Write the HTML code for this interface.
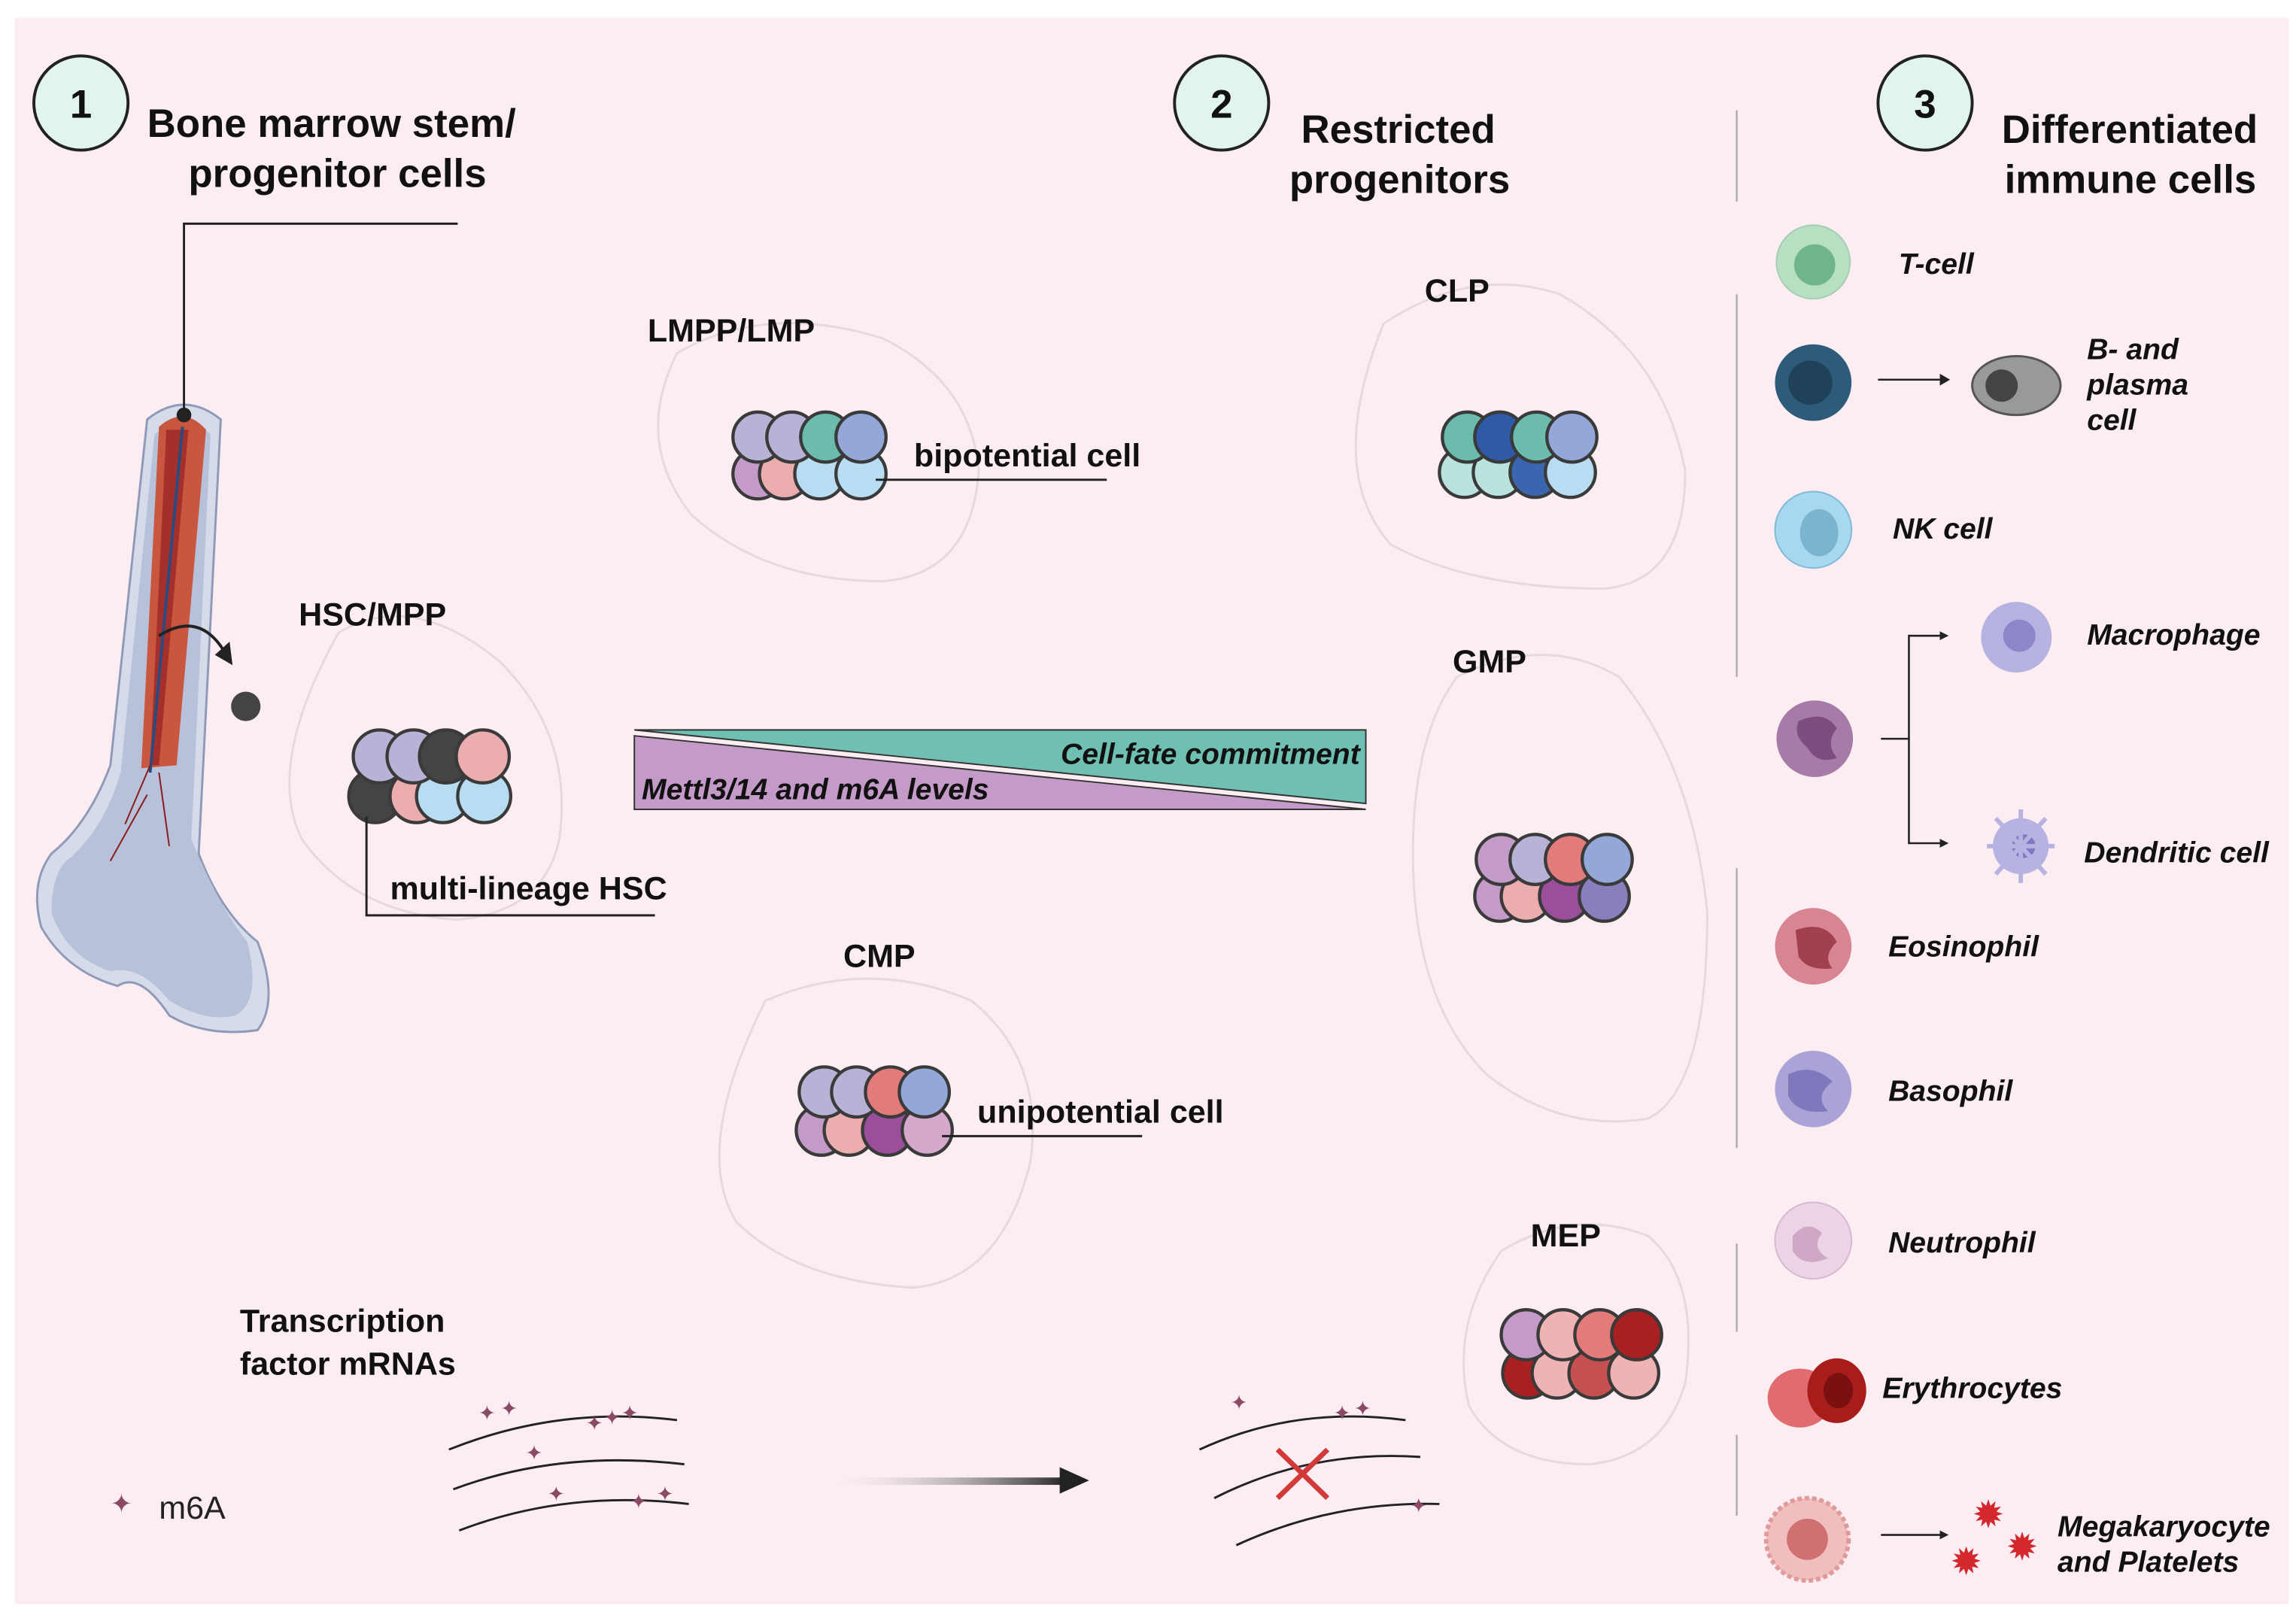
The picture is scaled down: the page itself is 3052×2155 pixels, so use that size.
<!DOCTYPE html>
<html><head><meta charset="utf-8"><style>
html,body{margin:0;padding:0;background:#fff}
svg{display:block}
text{font-family:"Liberation Sans",sans-serif}
.t{font-weight:bold;font-size:27px;fill:#111}
.l{font-weight:bold;font-size:22px;fill:#111}
.i{font-weight:bold;font-style:italic;font-size:20px;fill:#111}
.c{stroke:#3a3a3a;stroke-width:2.2}
.blob{fill:none;stroke:#e6d9dd;stroke-width:1.5}
</style></head><body>
<svg width="3052" height="2155" viewBox="0 0 1560 1101.5" xmlns="http://www.w3.org/2000/svg">
<rect x="0" y="0" width="1560" height="1102" fill="#fff"/>
<rect x="10" y="12" width="1545" height="1078" fill="#fcedf3"/>

<!-- badges -->
<g stroke="#222" stroke-width="2" fill="#e2f4ef">
<circle cx="55" cy="70" r="32"/><circle cx="830" cy="70" r="32"/><circle cx="1308" cy="70" r="32"/>
</g>
<text x="55" y="80" text-anchor="middle" class="t" font-size="28">1</text>
<text x="830" y="80" text-anchor="middle" class="t">2</text>
<text x="1308" y="80" text-anchor="middle" class="t">3</text>
<text x="100" y="93" class="t">Bone marrow stem/</text>
<text x="128" y="127" class="t">progenitor cells</text>
<text x="884" y="97" class="t">Restricted</text>
<text x="876" y="131" class="t">progenitors</text>
<text x="1360" y="97" class="t">Differentiated</text>
<text x="1362" y="131" class="t">immune cells</text>

<!-- separators -->
<g stroke="#aaa" stroke-width="1.2">
<line x1="1180" y1="75" x2="1180" y2="137"/>
<line x1="1180" y1="200" x2="1180" y2="460"/>
<line x1="1180" y1="590" x2="1180" y2="780"/>
<line x1="1180" y1="845" x2="1180" y2="905"/>
<line x1="1180" y1="975" x2="1180" y2="1030"/>
</g>

<!-- bone -->
<path d="M100 285 Q125 265 150 285 L135 580 Q150 620 175 640 Q190 680 175 700 Q140 705 115 690 Q95 660 80 670 Q45 660 28 630 Q20 600 35 580 Q60 560 75 520 Z" fill="#d5dbe8" stroke="#8f9ab8" stroke-width="1.5"/>
<path d="M105 295 Q125 280 143 295 L130 570 Q148 615 168 640 Q178 680 160 690 Q140 695 115 680 Q95 655 75 660 Q45 650 35 620 Q35 595 45 585 Q70 565 82 525 Z" fill="#b7c1da"/>
<path d="M108 290 Q125 275 140 292 L120 520 L96 522 Z" fill="#c9563f"/>
<path d="M113 292 L128 292 L108 520 L102 520 Z" fill="#a3302a"/>
<line x1="124" y1="290" x2="102" y2="525" stroke="#2b4a80" stroke-width="2"/>
<path d="M102 520 L85 560 M108 525 L115 575 M100 540 L75 585" stroke="#8a1a1a" stroke-width="1" fill="none"/>
<circle cx="125" cy="282" r="5" fill="#222"/>
<polyline points="125,282 125,152 311,152" fill="none" stroke="#222" stroke-width="1.5"/>
<path d="M108 432 Q135 415 152 442" fill="none" stroke="#222" stroke-width="2"/>
<polygon points="146,445 158,452 156,436" fill="#222"/>
<circle cx="167" cy="480" r="10" fill="#444"/>

<!-- blobs -->
<path class="blob" d="M230 430 Q280 400 340 450 Q390 500 380 570 Q370 620 310 625 Q240 620 205 570 Q180 520 230 430 Z"/>
<path class="blob" d="M460 240 Q520 205 600 230 Q660 260 665 320 Q660 390 600 395 Q520 395 470 350 Q430 300 460 240 Z"/>
<path class="blob" d="M520 680 Q590 650 660 680 Q710 720 700 790 Q680 870 620 875 Q540 870 500 830 Q470 780 520 680 Z"/>
<path class="blob" d="M940 220 Q1000 180 1060 200 Q1130 240 1145 320 Q1145 395 1090 400 Q1000 400 945 370 Q900 320 940 220 Z"/>
<path class="blob" d="M990 460 Q1050 430 1100 460 Q1150 520 1160 620 Q1160 740 1120 760 Q1060 770 1010 730 Q960 680 960 580 Q960 500 990 460 Z"/>
<path class="blob" d="M1020 850 Q1070 820 1120 840 Q1155 870 1145 940 Q1130 990 1080 995 Q1020 995 998 955 Q985 900 1020 850 Z"/>

<text x="203" y="425" class="l" font-size="24">HSC/MPP</text>
<text x="440" y="232" class="l" font-size="24">LMPP/LMP</text>
<text x="573" y="657" class="l" font-size="24">CMP</text>
<text x="968" y="205" class="l" font-size="24">CLP</text>
<text x="987" y="457" class="l" font-size="24">GMP</text>
<text x="1040" y="847" class="l" font-size="24">MEP</text>

<!-- HSC cluster -->
<g class="c">
<circle cx="255" cy="541" r="18" fill="#444"/><circle cx="283" cy="541" r="18" fill="#ebadad"/><circle cx="301" cy="541" r="18" fill="#b8dcf2"/><circle cx="329" cy="541" r="18" fill="#b8dcf2"/>
<circle cx="258" cy="514" r="18" fill="#b8b2d6"/><circle cx="281" cy="514" r="18" fill="#b8b2d6"/><circle cx="303" cy="514" r="18" fill="#444"/><circle cx="328" cy="514" r="18" fill="#ebadad"/>
</g>
<polyline points="249,555 249,622 445,622" fill="none" stroke="#222" stroke-width="1.5"/>
<text x="265" y="611" class="l" font-size="21">multi-lineage HSC</text>

<!-- LMPP cluster -->
<g class="c">
<circle cx="515" cy="322" r="17" fill="#c49bc8"/><circle cx="533" cy="322" r="17" fill="#ebadad"/><circle cx="557" cy="322" r="17" fill="#b8dcf2"/><circle cx="585" cy="322" r="17" fill="#b8dcf2"/>
<circle cx="515" cy="297" r="17" fill="#b8b2d6"/><circle cx="538" cy="297" r="17" fill="#b8b2d6"/><circle cx="561" cy="297" r="17" fill="#6cbcae"/><circle cx="585" cy="297" r="17" fill="#93a8d8"/>
</g>
<polyline points="595,326 752,326" stroke="#222" stroke-width="1.5"/>
<text x="621" y="317" class="l" font-size="21">bipotential cell</text>

<!-- CMP cluster -->
<g class="c">
<circle cx="558" cy="768" r="17" fill="#c49bc8"/><circle cx="577" cy="768" r="17" fill="#ebadad"/><circle cx="603" cy="768" r="17" fill="#9b4f9b"/><circle cx="630" cy="768" r="17" fill="#d6a8cc"/>
<circle cx="560" cy="742" r="17" fill="#b8b2d6"/><circle cx="582" cy="742" r="17" fill="#b8b2d6"/><circle cx="605" cy="742" r="17" fill="#e37b7b"/><circle cx="628" cy="742" r="17" fill="#93a8d8"/>
</g>
<line x1="640" y1="772" x2="776" y2="772" stroke="#222" stroke-width="1.5"/>
<text x="664" y="763" class="l" font-size="21">unipotential cell</text>

<!-- CLP -->
<g class="c">
<circle cx="995" cy="321" r="17" fill="#b9e3dc"/><circle cx="1018" cy="321" r="17" fill="#b9e3dc"/><circle cx="1043" cy="321" r="17" fill="#3a66b0"/><circle cx="1067" cy="321" r="17" fill="#b8dcf2"/>
<circle cx="997" cy="297" r="17" fill="#6cbcae"/><circle cx="1019" cy="297" r="17" fill="#2e5aa8"/><circle cx="1044" cy="297" r="17" fill="#6cbcae"/><circle cx="1068" cy="297" r="17" fill="#93a8d8"/>
</g>
<!-- GMP -->
<g class="c">
<circle cx="1019" cy="609" r="17" fill="#c49bc8"/><circle cx="1037" cy="609" r="17" fill="#ebadad"/><circle cx="1063" cy="609" r="17" fill="#9b4f9b"/><circle cx="1090" cy="609" r="17" fill="#8a7fbd"/>
<circle cx="1020" cy="584" r="17" fill="#c49bc8"/><circle cx="1043" cy="584" r="17" fill="#b8b2d6"/><circle cx="1067" cy="584" r="17" fill="#e37b7b"/><circle cx="1092" cy="584" r="17" fill="#93a8d8"/>
</g>
<!-- MEP -->
<g class="c">
<circle cx="1038" cy="933" r="17" fill="#a82020"/><circle cx="1058" cy="933" r="17" fill="#f0b3b3"/><circle cx="1083" cy="933" r="17" fill="#c45050"/><circle cx="1110" cy="933" r="17" fill="#f0b3b3"/>
<circle cx="1037" cy="907" r="17" fill="#c49bc8"/><circle cx="1062" cy="907" r="17" fill="#f0b3b3"/><circle cx="1087" cy="907" r="17" fill="#e37b7b"/><circle cx="1112" cy="907" r="17" fill="#a82020"/>
</g>

<!-- gradient triangles -->
<polygon points="431,496 928,496 928,546" fill="#6fc0b3" stroke="#333" stroke-width="1"/>
<polygon points="431,500 928,550 431,550" fill="#c49bc8" stroke="#333" stroke-width="1"/>
<text x="924" y="519" text-anchor="end" class="i" font-weight="normal" font-size="19">Cell-fate commitment</text>
<text x="436" y="543" class="i" font-weight="normal" font-size="19">Mettl3/14 and m6A levels</text>

<!-- transcription -->
<text x="163" y="905" class="l" font-size="23">Transcription</text>
<text x="163" y="934" class="l" font-size="23">factor mRNAs</text>
<g fill="none" stroke="#222" stroke-width="1.5">
<path d="M305 985 Q380 955 460 965"/><path d="M308 1012 Q380 985 465 995"/><path d="M312 1040 Q385 1012 468 1022"/>
<path d="M815 985 Q880 955 955 965"/><path d="M825 1018 Q890 985 965 990"/><path d="M840 1050 Q905 1020 978 1022"/>
</g>
<g fill="#8a4a66" font-size="14">
<text x="325" y="965">✦</text><text x="340" y="962">✦</text><text x="398" y="972">✦</text><text x="410" y="968">✦</text><text x="422" y="965">✦</text>
<text x="357" y="992">✦</text><text x="372" y="1020">✦</text><text x="428" y="1025">✦</text><text x="446" y="1020">✦</text>
<text x="836" y="958">✦</text><text x="906" y="965">✦</text><text x="920" y="962">✦</text><text x="958" y="1028">✦</text>
<text x="75" y="1028" font-size="18">✦</text>
</g>
<text x="108" y="1032" font-size="22" fill="#222">m6A</text>
<path d="M868 985 L902 1018 M902 985 L868 1018" stroke="#d23a3a" stroke-width="3.5"/>
<defs><linearGradient id="ag" x1="0" x2="1"><stop offset="0" stop-color="#fff" stop-opacity="0"/><stop offset="1" stop-color="#222"/></linearGradient></defs>
<rect x="555" y="1004" width="170" height="5" fill="url(#ag)"/>
<polygon points="720,997 740,1006 720,1015" fill="#222"/>

<!-- immune cells -->
<circle cx="1232" cy="178" r="25" fill="#b7e0c3" stroke="#a6cdb2"/><circle cx="1233" cy="180" r="14" fill="#6fb589"/>
<text x="1290" y="186" class="i">T-cell</text>
<circle cx="1232" cy="260" r="26" fill="#2e5b7a"/><circle cx="1230" cy="260" r="15" fill="#1f4258"/>
<line x1="1276" y1="258" x2="1318" y2="258" stroke="#222" stroke-width="1.3"/><polygon points="1318,254 1325,258 1318,262" fill="#222"/>
<ellipse cx="1370" cy="262" rx="30" ry="20" fill="#999" stroke="#555" stroke-width="1.5"/><circle cx="1360" cy="262" r="11" fill="#444"/>
<text x="1418" y="244" class="i">B- and</text><text x="1418" y="268" class="i">plasma</text><text x="1418" y="292" class="i">cell</text>
<circle cx="1232" cy="360" r="26" fill="#a8d8ef" stroke="#7fb8d8"/><ellipse cx="1236" cy="362" rx="13" ry="16" fill="#7bb4cf"/>
<text x="1286" y="366" class="i">NK cell</text>
<circle cx="1233" cy="502" r="26" fill="#a77ba7"/><path d="M1222 490 Q1240 482 1248 495 Q1240 505 1248 515 Q1235 520 1228 508 Q1218 500 1222 490 Z" fill="#7d4d80"/>
<polyline points="1278,502 1297,502 1297,432 1318,432" fill="none" stroke="#222" stroke-width="1.3"/><polygon points="1318,429 1324,432 1318,435" fill="#222"/>
<polyline points="1297,502 1297,573 1318,573" fill="none" stroke="#222" stroke-width="1.3"/><polygon points="1318,570 1324,573 1318,576" fill="#222"/>
<circle cx="1370" cy="433" r="24" fill="#b6b3e2"/><circle cx="1372" cy="432" r="11" fill="#8d87c9"/>
<text x="1418" y="438" class="i">Macrophage</text>
<circle cx="1373" cy="575" r="19" fill="#b6b3e2"/><circle cx="1375" cy="575" r="8" fill="#7f78c2"/>
<g stroke="#b6b3e2" stroke-width="3"><line x1="1350" y1="575" x2="1396" y2="575"/><line x1="1373" y1="550" x2="1373" y2="600"/><line x1="1356" y1="556" x2="1390" y2="594"/><line x1="1390" y1="556" x2="1356" y2="594"/></g>
<text x="1416" y="586" class="i">Dendritic cell</text>
<circle cx="1232" cy="643" r="26" fill="#d88593"/><path d="M1220 632 Q1240 625 1248 640 Q1238 650 1245 658 Q1228 660 1222 650 Z" fill="#a2404f"/>
<text x="1283" y="650" class="i">Eosinophil</text>
<circle cx="1232" cy="740" r="26" fill="#a9a3d8"/><path d="M1215 730 Q1232 722 1245 735 Q1232 745 1242 755 Q1222 758 1215 745 Z" fill="#7e79bd"/>
<text x="1283" y="748" class="i">Basophil</text>
<circle cx="1232" cy="843" r="26" fill="#ecd3e6" stroke="#d8b8d0"/><path d="M1218 840 Q1228 828 1238 838 Q1230 848 1242 855 Q1225 862 1218 850 Z" fill="#d0a8c6"/>
<text x="1283" y="851" class="i">Neutrophil</text>
<ellipse cx="1223" cy="950" rx="22" ry="20" fill="#e06c70"/><ellipse cx="1248" cy="945" rx="20" ry="22" fill="#a81c1c"/><ellipse cx="1249" cy="945" rx="10" ry="12" fill="#7a1010"/>
<text x="1279" y="950" class="i">Erythrocytes</text>
<circle cx="1228" cy="1046" r="28" fill="#f0bebe" stroke="#e09a9a" stroke-width="3" stroke-dasharray="3 2"/><circle cx="1228" cy="1046" r="14" fill="#d07070"/>
<line x1="1278" y1="1043" x2="1318" y2="1043" stroke="#222" stroke-width="1.3"/><polygon points="1318,1040 1324,1043 1318,1046" fill="#222"/>
<g fill="#d2282e" font-size="26"><text x="1340" y="1038">✹</text><text x="1363" y="1060">✹</text><text x="1325" y="1070">✹</text></g>
<text x="1398" y="1044" class="i">Megakaryocyte</text>
<text x="1398" y="1068" class="i">and Platelets</text>
</svg>
</body></html>
